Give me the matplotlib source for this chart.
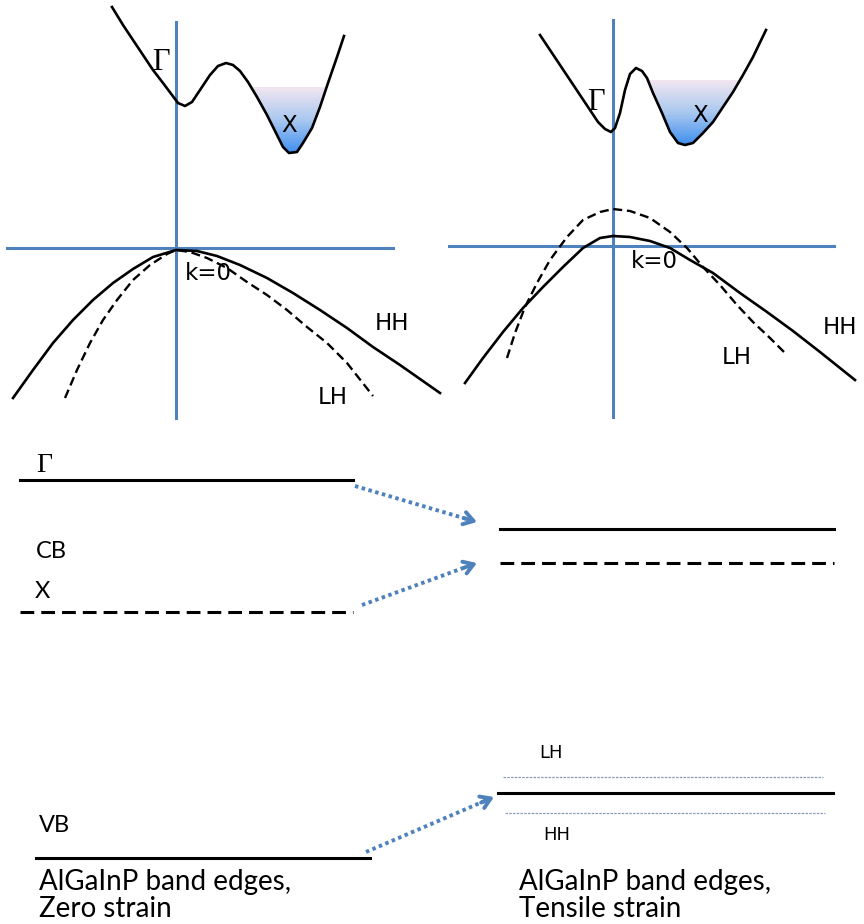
import numpy as np
import matplotlib.pyplot as plt
from matplotlib.patches import Polygon
from matplotlib.colors import LinearSegmentedColormap

# coordinates, in pixels (x to the right, y downwards)

# left panel: zero strain E-k sketch
cb0_x = [112, 123, 133, 143, 153, 163, 172, 178, 185, 192, 200, 210, 218, 226, 233, 240, 248,
         257, 267, 277, 283, 289, 297, 303, 312, 320, 328, 337, 344]
cb0_y = [7, 25, 40, 55, 70, 83, 95, 103, 106, 102, 90, 75, 66, 63, 65, 71, 82,
         97, 115, 135, 147, 153, 152, 143, 128, 107, 83, 57, 36]
fill0_y = 87
hh0_x = [13, 33, 53, 73, 93, 113, 133, 153, 176, 197, 217, 240, 267, 293, 320, 347, 373, 400, 420, 440]
hh0_y = [398, 370, 343, 320, 300, 283, 269, 257, 250, 251, 256, 265, 278, 293, 310, 328, 347, 365, 379, 393]
lh0_x = [65, 77, 90, 103, 117, 133, 150, 167, 176, 190, 207, 227, 247, 267, 287, 307, 327, 347, 373]
lh0_y = [398, 370, 343, 320, 300, 280, 265, 254, 250, 252, 258, 268, 282, 295, 310, 327, 343, 363, 396]

# right panel: tensile strain E-k sketch
cb1_x = [540, 550, 560, 570, 580, 590, 598, 605, 611, 615, 620, 625, 630, 636, 642, 647, 653,
         662, 670, 678, 685, 693, 703, 713, 723, 733, 743, 753, 766]
cb1_y = [35, 50, 65, 80, 95, 110, 122, 129, 132, 128, 113, 90, 74, 68, 71, 78, 93,
         113, 132, 143, 145, 143, 133, 122, 107, 92, 75, 57, 30]
fill1_y = 80
hh1_x = [465, 483, 503, 523, 543, 563, 583, 600, 613, 630, 650, 670, 690, 713, 740, 767, 793, 820, 855]
hh1_y = [383, 358, 332, 308, 287, 267, 248, 238, 236, 237, 241, 248, 260, 273, 293, 312, 331, 352, 380]
lh1_x = [507, 515, 525, 537, 550, 567, 583, 600, 613, 630, 650, 670, 687, 703, 720, 737, 753, 770, 785]
lh1_y = [358, 333, 307, 283, 260, 237, 220, 212, 209, 211, 218, 232, 248, 267, 285, 305, 322, 338, 353]

# band edge levels (y)
lvl_left = {"G": 480, "X": 612, "VB": 858}
lvl_right = {"G": 529, "X": 563, "LH": 777, "VB": 793, "HH": 813}

# arrows: start and end points
arr_start = [(355, 486), (362, 605), (366, 852)]
arr_end = [(477, 522), (477, 563), (494, 797)]

blue = "#4f81bd"

fig = plt.figure(figsize=(8.64, 9.24), dpi=100)
ax = fig.add_axes([0, 0, 1, 1])
ax.set_xlim(0, 864)
ax.set_ylim(924, 0)
ax.axis("off")


def panel(ax, ax_x, ax_y0, ax_y1, h_y, h_x0, h_x1, cbx, cby, fill_y, hhx, hhy, lhx, lhy):
    # axes of the sketch
    ax.plot([ax_x, ax_x], [ax_y0, ax_y1], color=blue, lw=2.2, zorder=1)
    ax.plot([h_x0, h_x1], [h_y, h_y], color=blue, lw=2.2, zorder=1)

    # gradient fill in the X valley
    cbx = np.array(cbx)
    cby = np.array(cby)
    i_peak = int(np.argmin(cby[5:20])) + 5
    vx = cbx[i_peak:]
    vy = cby[i_peak:]
    poly = Polygon(np.column_stack([vx, vy]), closed=True, facecolor="none", edgecolor="none")
    ax.add_patch(poly)
    grad = np.linspace(0, 1, 100).reshape(-1, 1)
    cmap = LinearSegmentedColormap.from_list("valley", ["#f3e6f2", "#a9c8ef", "#3f8ff0"])
    im = ax.imshow(grad, cmap=cmap, aspect="auto",
                   extent=[vx.min(), vx.max(), vy.max(), fill_y], zorder=2)
    im.set_clip_path(poly)

    ax.plot(cbx, cby, color="black", lw=1.9, zorder=3, solid_joinstyle="round")
    ax.plot(hhx, hhy, color="black", lw=1.9, zorder=3, solid_joinstyle="round")
    ax.plot(lhx, lhy, color="black", lw=1.7, zorder=3, linestyle=(0, (3.8, 2.0)))


panel(ax, 176, 22, 418, 248, 7, 393, cb0_x, cb0_y, fill0_y, hh0_x, hh0_y, lh0_x, lh0_y)
panel(ax, 613, 20, 417, 246, 449, 834, cb1_x, cb1_y, fill1_y, hh1_x, hh1_y, lh1_x, lh1_y)

serif = ["Liberation Serif", "DejaVu Serif"]
txt = dict(family="DejaVu Sans", fontsize=16.5, ha="center", va="center")
ax.text(161, 62, "Γ", family=serif, fontsize=22, ha="center", va="center")
ax.text(596, 102, "Γ", family=serif, fontsize=22, ha="center", va="center")
ax.text(289, 126, "X", **txt)
ax.text(700, 115, "X", **txt)
ax.text(208, 274, "k=0", **txt)
ax.text(654, 262, "k=0", **txt)
ax.text(392, 323, "HH", **txt)
ax.text(333, 397, "LH", **txt)
ax.text(823, 327, "HH", family="DejaVu Sans", fontsize=16.5, ha="left", va="center")
ax.text(737, 358, "LH", **txt)

# band edge diagram
lw_lvl = 2.2
dash = (0, (4.5, 2.3))
ax.plot([20, 353], [lvl_left["G"]] * 2, color="black", lw=lw_lvl)
ax.plot([20, 353], [lvl_left["X"]] * 2, color="black", lw=lw_lvl, linestyle=dash)
ax.plot([36, 370], [lvl_left["VB"]] * 2, color="black", lw=lw_lvl)
ax.plot([500, 834], [lvl_right["G"]] * 2, color="black", lw=lw_lvl)
ax.plot([500, 834], [lvl_right["X"]] * 2, color="black", lw=lw_lvl, linestyle=dash)
ax.plot([498, 833], [lvl_right["VB"]] * 2, color="black", lw=lw_lvl)
ax.plot([503, 823], [lvl_right["LH"]] * 2, color="#8a9bb8", lw=0.9, linestyle=(0, (2, 1)))
ax.plot([505, 825], [lvl_right["HH"]] * 2, color="#8a9bb8", lw=0.9, linestyle=(0, (2, 1)))

for (x0, y0), (x1, y1) in zip(arr_start, arr_end):
    # dotted shaft, solid chevron head
    dx, dy = x1 - x0, y1 - y0
    n = np.hypot(dx, dy)
    ax.plot([x0, x1 - dx / n * 6], [y0, y1 - dy / n * 6], color=blue, lw=2.8,
            linestyle=(0, (0.9, 0.9)))
    ax.annotate("", xy=(x1, y1), xytext=(x1 - dx / n * 14, y1 - dy / n * 14),
                arrowprops=dict(arrowstyle="->,head_length=0.7,head_width=0.45",
                                color=blue, lw=2.8, shrinkA=0, shrinkB=0))

lato = ["Lato", "DejaVu Sans"]
ax.text(44, 465, "Γ", family=serif, fontsize=20, ha="center", va="center")
ax.text(51, 551, "CB", family=lato, fontsize=17, ha="center", va="center")
ax.text(42, 592, "X", family=lato, fontsize=17, ha="center", va="center")
ax.text(54, 826, "VB", family=lato, fontsize=17, ha="center", va="center")
ax.text(551, 753, "LH", family="DejaVu Sans", fontsize=13, ha="center", va="center")
ax.text(557, 835, "HH", family="DejaVu Sans", fontsize=13, ha="center", va="center")

ax.text(39, 882, "AlGaInP band edges,", family=lato, fontsize=20, ha="left", va="center")
ax.text(39, 909, "Zero strain", family=lato, fontsize=20, ha="left", va="center")
ax.text(519, 882, "AlGaInP band edges,", family=lato, fontsize=20, ha="left", va="center")
ax.text(519, 909, "Tensile strain", family=lato, fontsize=20, ha="left", va="center")

fig.savefig("out.png", dpi=100)
